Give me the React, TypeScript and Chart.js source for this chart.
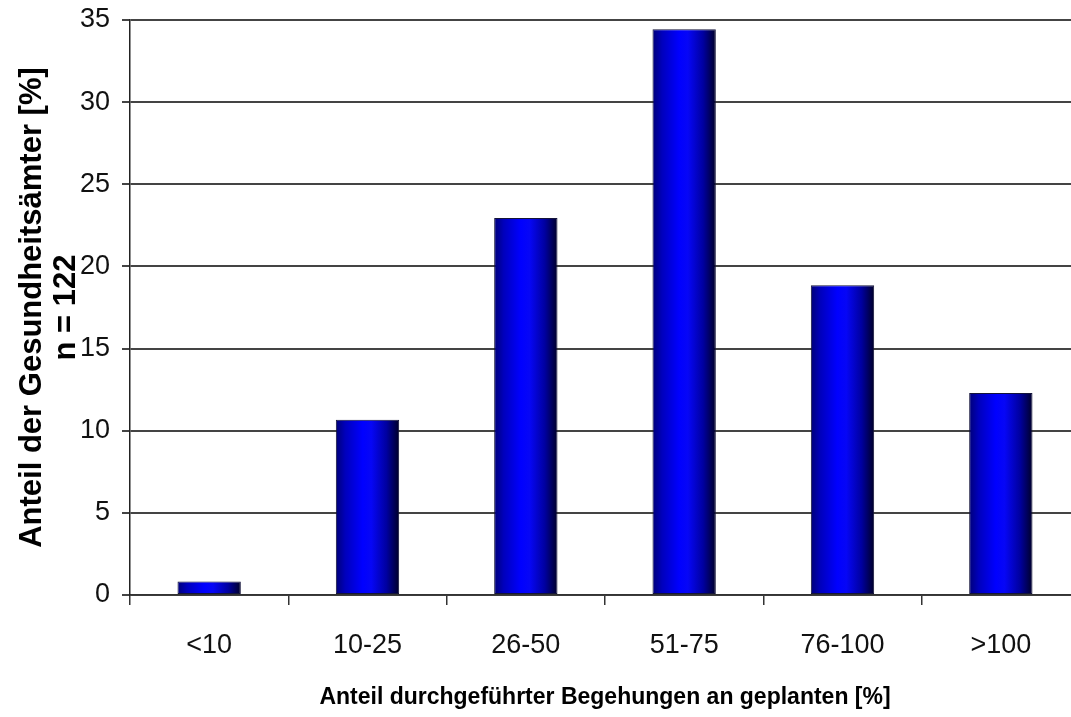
import React, { useEffect, useRef } from "react";
import { Chart, registerables } from "chart.js";

Chart.register(...registerables);

const categories = ["<10", "10-25", "26-50", "51-75", "76-100", ">100"];
const shares = [0.82, 10.66, 22.95, 34.43, 18.85, 12.3];
const yTicks = [0, 5, 10, 15, 20, 25, 30, 35];
const yTitle = ["Anteil der Gesundheitsämter [%]", "n = 122"];
const xTitle = "Anteil durchgeführter Begehungen an geplanten [%]";

const FONT = "'Liberation Sans', Arial, sans-serif";
const BAR_FRACTION = 0.4;

export default function App() {
  const ref = useRef<HTMLCanvasElement | null>(null);

  useEffect(() => {
    const canvas = ref.current;
    if (!canvas) return;
    const chart = new Chart(canvas, {
      type: "bar",
      data: {
        labels: categories,
        datasets: [
          {
            data: shares,
            barPercentage: BAR_FRACTION,
            categoryPercentage: 1,
            borderColor: "#14143a",
            borderWidth: 1,
            borderSkipped: false,
            backgroundColor: (ctx: any) => {
              const c = ctx.chart;
              const xs = c.scales && c.scales.x;
              if (ctx.type !== "data" || !xs || !c.chartArea) return "#0000e0";
              const cx = xs.getPixelForValue(ctx.dataIndex);
              const bw = (xs.width / categories.length) * BAR_FRACTION;
              const g = c.ctx.createLinearGradient(cx - bw / 2, 0, cx + bw / 2, 0);
              g.addColorStop(0, "#000078");
              g.addColorStop(0.15, "#0000bc");
              g.addColorStop(0.42, "#0000ff");
              g.addColorStop(0.56, "#0606f6");
              g.addColorStop(0.8, "#0000a0");
              g.addColorStop(1, "#000028");
              return g;
            },
          },
        ],
      },
      options: {
        animation: false,
        responsive: false,
        maintainAspectRatio: false,
        layout: { padding: { left: 0, top: 20, right: 10, bottom: 2 } },
        plugins: { legend: { display: false }, tooltip: { enabled: false } },
        scales: {
          x: {
            grid: {
              offset: true,
              drawOnChartArea: false,
              drawTicks: true,
              tickLength: 10,
              color: "#333",
              lineWidth: 1.5,
            },
            border: { display: true, color: "#333", width: 1.5 },
            ticks: {
              color: "#111",
              font: { family: FONT, size: 27 },
              padding: 24,
            },
            title: {
              display: true,
              text: xTitle,
              color: "#000",
              font: { family: FONT, size: 23, weight: "bold" },
              padding: { top: 0, bottom: 4 },
            },
            afterFit: (s: any) => {
              s.height = 120;
              s.paddingLeft = 0;
              s.paddingRight = 0;
            },
          },
          y: {
            min: 0,
            max: 35,
            afterBuildTicks: (s: any) => {
              s.ticks = yTicks.map((v) => ({ value: v }));
            },
            grid: {
              color: "#444",
              lineWidth: 2,
              drawTicks: true,
              tickLength: 8,
            },
            border: { display: true, color: "#222", width: 1.5 },
            ticks: {
              color: "#111",
              font: { family: FONT, size: 27 },
              padding: 12,
            },
            title: {
              display: true,
              text: yTitle,
              color: "#000",
              font: { family: FONT, size: 31, weight: "bold", lineHeight: 1.1 },
              padding: { top: 15, bottom: 0 },
            },
            afterFit: (s: any) => {
              s.width = 130;
              s.paddingTop = 0;
              s.paddingBottom = 0;
            },
          },
        },
      },
    });
    return () => chart.destroy();
  }, []);

  return (
    <div
      style={{
        position: "fixed",
        left: 0,
        top: 0,
        width: 1071,
        height: 717,
        overflow: "hidden",
        background: "#fff",
      }}
    >
      <canvas ref={ref} width={1090} height={717} style={{ display: "block", width: 1090, height: 717 }} />
    </div>
  );
}
